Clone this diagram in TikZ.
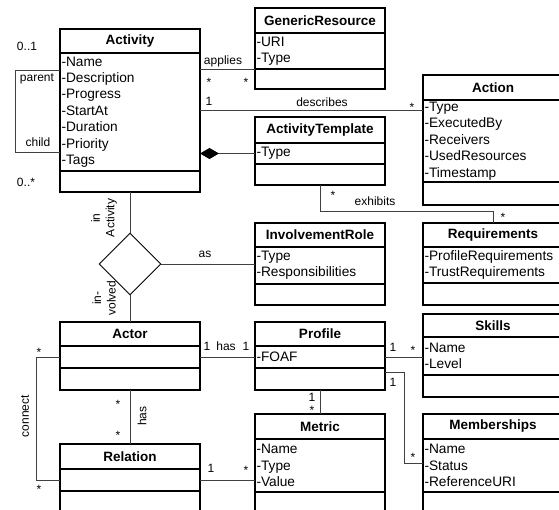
\documentclass[tikz,border=0pt]{standalone}
\usepackage{fontspec}
\setmainfont{Liberation Sans}
\usetikzlibrary{positioning,shapes.geometric,arrows.meta}

\begin{document}
\begin{tikzpicture}[x=1pt,y=-1pt,
  head/.style={draw, line width=1.8pt, outer sep=0pt, inner sep=0pt, anchor=north west,
    minimum width=#1, font=\bfseries\fontsize{13.5}{16}\selectfont},
  body/.style={draw, line width=1.8pt, outer sep=0pt, inner xsep=1.5pt, inner ysep=0pt,
    text width=#1-3pt, align=left, font=\fontsize{13.7}{16.4}\selectfont},
  conn/.style={draw=black!75, line width=0.9pt},
  lbl/.style={inner sep=0pt, font=\fontsize{12}{14.5}\selectfont},
  rel/.style={draw, diamond, line width=0.9pt, minimum width=62pt, minimum height=62pt, inner sep=0pt}]
  \useasboundingbox (0,0) rectangle (559,510);
  \clip (0,0) rectangle (559,510);

  % classes
  \node[head=140pt, minimum height=24pt] (act) at (60,29) {Activity};
  \node[body=140pt, minimum height=118pt, below=0pt of act] (actAttr) {-Name\\-Description\\-Progress\\-StartAt\\-Duration\\-Priority\\-Tags};
  \node[body=140pt, minimum height=21pt, below=0pt of actAttr] (actOps) {};

  \node[head=130pt, minimum height=25pt] (gres) at (255,8) {GenericResource};
  \node[body=130pt, minimum height=36pt, below=0pt of gres] (gresAttr) {-URI\\-Type};
  \node[body=130pt, minimum height=20pt, below=0pt of gresAttr] (gresOps) {};

  \node[head=140pt, minimum height=25pt] (action) at (423,75) {Action};
  \node[body=140pt, minimum height=82pt, below=0pt of action] (actionAttr) {-Type\\-ExecutedBy\\-Receivers\\-UsedResources\\-Timestamp};
  \node[body=140pt, minimum height=23pt, below=0pt of actionAttr] (actionOps) {};

  \node[head=130pt, minimum height=26pt] (tmpl) at (255,117) {ActivityTemplate};
  \node[body=130pt, minimum height=21pt, below=0pt of tmpl] (tmplAttr) {-Type};
  \node[body=130pt, minimum height=21pt, below=0pt of tmplAttr] (tmplOps) {};

  \node[head=130pt, minimum height=24pt] (role) at (255,223) {InvolvementRole};
  \node[body=130pt, minimum height=37pt, below=0pt of role] (roleAttr) {-Type\\-Responsibilities};
  \node[body=130pt, minimum height=21pt, below=0pt of roleAttr] (roleOps) {};

  \node[head=140pt, minimum height=24pt] (req) at (423,223) {Requirements};
  \node[body=140pt, minimum height=36pt, below=0pt of req] (reqAttr) {-ProfileRequirements\\-TrustRequirements};
  \node[body=140pt, minimum height=22pt, below=0pt of reqAttr] (reqOps) {};

  \node[head=140pt, minimum height=24pt] (actor) at (60,322) {Actor};
  \node[body=140pt, minimum height=22pt, below=0pt of actor] (actorAttr) {};
  \node[body=140pt, minimum height=22pt, below=0pt of actorAttr] (actorOps) {};

  \node[head=130pt, minimum height=24pt] (prof) at (255,322) {Profile};
  \node[body=130pt, minimum height=22pt, below=0pt of prof] (profAttr) {-FOAF};
  \node[body=130pt, minimum height=22pt, below=0pt of profAttr] (profOps) {};

  \node[head=140pt, minimum height=23pt] (skills) at (423,314) {Skills};
  \node[body=140pt, minimum height=38pt, below=0pt of skills] (skillsAttr) {-Name\\-Level};
  \node[body=140pt, minimum height=22pt, below=0pt of skillsAttr] (skillsOps) {};

  \node[head=130pt, minimum height=25pt] (metric) at (255,414) {Metric};
  \node[body=130pt, minimum height=53pt, below=0pt of metric] (metricAttr) {-Name\\-Type\\-Value};
  \node[body=130pt, minimum height=22pt, below=0pt of metricAttr] (metricOps) {};

  \node[head=140pt, minimum height=25pt] (memb) at (423,414) {Memberships};
  \node[body=140pt, minimum height=53pt, below=0pt of memb] (membAttr) {-Name\\-Status\\-ReferenceURI};
  \node[body=140pt, minimum height=22pt, below=0pt of membAttr] (membOps) {};

  \node[head=140pt, minimum height=25pt] (relation) at (60,444) {Relation};
  \node[body=140pt, minimum height=22pt, below=0pt of relation] (relAttr) {};
  \node[body=140pt, minimum height=22pt, below=0pt of relAttr] (relOps) {};

  \node[rel] (inv) at (130,264) {};

  % connectors
  \draw[conn] ([yshift=-17pt]actAttr.north west) -- ++(-45,0) |- ([yshift=-99pt]actAttr.north west);
  \draw[conn] (gresAttr.south west -| actAttr.east) -- (gresAttr.south west);
  \draw[conn] ([yshift=-57pt]actAttr.north east) -- ([yshift=-10pt]actionAttr.north west);
  \draw[conn, -{Diamond[length=19pt, width=11pt, color=black]}] (tmplAttr.west) -- (tmplAttr.west -| actAttr.east);
  \draw[conn] (tmplOps.south) -- ++(0,26) -| (req.north);
  \draw[conn] (actOps.south) -- (inv.north);
  \draw[conn] (inv.east) -- (inv.east -| roleAttr.west);
  \draw[conn] (inv.south) -- (actor.north);
  \draw[conn] (actorAttr.east) -- (profAttr.west);
  \draw[conn] (profAttr.east) -- (profAttr.east -| skillsAttr.west);
  \draw[conn] ([yshift=-4pt]profOps.north east) -- ++(19,0) |- ([yshift=2pt]membAttr.west);
  \draw[conn] (profOps.south) -- (metric.north);
  \draw[conn] (relAttr.east) -- (relAttr.east -| metricAttr.west);
  \draw[conn] (actorOps.south) -- (relation.north);
  \draw[conn] (actorAttr.west) -- ++(-24,0) |- (relAttr.west);

  % labels
  \draw (27,46) node[lbl] (lTop) {0..1};
  \draw (37,79) node[lbl] (lParent) {parent};
  \draw (38,142) node[lbl] (lChild) {child};
  \draw (26,182) node[lbl] (lBottom) {0..*};
  \draw (223,61) node[lbl] (lApplies) {applies};
  \draw (209,82) node[lbl] (sApplyA) {*};
  \draw (246,82) node[lbl] (sApplyB) {*};
  \draw (209,101) node[lbl] (oDescr) {1};
  \draw (322,102) node[lbl] (lDescr) {describes};
  \draw (412,107) node[lbl] (sDescr) {*};
  \draw (333,195) node[lbl] (sExhA) {*};
  \draw (375,201) node[lbl] (lExh) {exhibits};
  \draw (503,217) node[lbl] (sExhB) {*};
  \draw (104,218) node[lbl, rotate=90, align=center] (lInAct) {in\\Activity};
  \draw (205,254) node[lbl] (lAs) {as};
  \draw (104,298) node[lbl, rotate=90, align=center] (lInvolved) {in-\\volved};
  \draw (207,346) node[lbl] (oHasA) {1};
  \draw (226,346) node[lbl] (lHas) {has};
  \draw (246,346) node[lbl] (oHasB) {1};
  \draw (393,347) node[lbl] (oSkills) {1};
  \draw (413,350) node[lbl] (sSkills) {*};
  \draw (393,382) node[lbl] (oMemb) {1};
  \draw (413,457) node[lbl] (sMemb) {*};
  \draw (312,397) node[lbl] (oMetric) {1};
  \draw (312,410) node[lbl] (sMetric) {*};
  \draw (211,468) node[lbl] (oRel) {1};
  \draw (246,470) node[lbl] (sRel) {*};
  \draw (118,404) node[lbl] (sHasA) {*};
  \draw (118,435) node[lbl] (sHasB) {*};
  \draw (142,416) node[lbl, rotate=90] (lHasRel) {has};
  \draw (39,352) node[lbl] (sConnA) {*};
  \draw (39,489) node[lbl] (sConnB) {*};
  \draw (25,416) node[lbl, rotate=90] (lConnect) {connect};
\end{tikzpicture}
\end{document}
